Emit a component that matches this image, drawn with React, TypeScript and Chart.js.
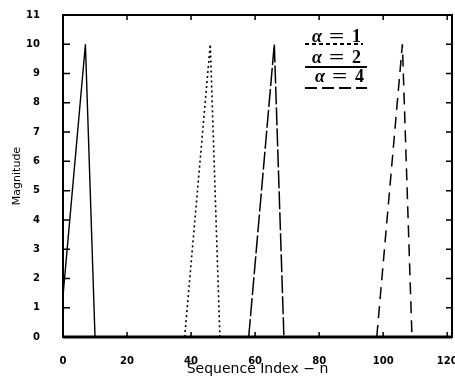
import { useEffect, useRef } from "react";
import { Chart, registerables } from "chart.js";

Chart.register(...registerables);

// Series (vertices of each ramp)
const alpha1N = [38, 46, 49];
const alpha1Mag = [0, 10, 0];
const alpha2N = [0, 7, 10];
const alpha2Mag = [1.4, 10, 0];
const alpha4N = [58, 66, 69];
const alpha4Mag = [0, 10, 0];
const extraN = [98, 106, 109];
const extraMag = [0, 10, 0];

const legendLabels = ["α = 1", "α = 2", "α = 4"];
const xTicks = [0, 20, 40, 60, 80, 100, 120];
const yTicks = [0, 1, 2, 3, 4, 5, 6, 7, 8, 9, 10, 11];
const xTitle = "Sequence Index − n";
const yTitle = "Magnitude";

const toPoints = (xs: number[], ys: number[]) => xs.map((x, i) => ({ x, y: ys[i] }));

const legendDashes: number[][] = [[4, 3], [], [12, 5]];

const framePlugin = {
  id: "frameTicksLegend",
  afterDraw(chart: any) {
    const { ctx, chartArea, scales } = chart;
    const { left, right, top, bottom } = chartArea;
    const x = scales.x;
    const y = scales.y;
    ctx.save();
    ctx.strokeStyle = "#000";
    ctx.lineWidth = 1.5;
    ctx.setLineDash([]);
    ctx.beginPath();
    for (const v of yTicks) {
      if (v === 0 || v === 11) continue;
      const py = y.getPixelForValue(v);
      ctx.moveTo(left, py);
      ctx.lineTo(left + 7, py);
      ctx.moveTo(right, py);
      ctx.lineTo(right - 6, py);
    }
    for (const v of xTicks) {
      if (v === 0) continue;
      const px = x.getPixelForValue(v);
      ctx.moveTo(px, bottom);
      ctx.lineTo(px, bottom - 5);
      ctx.moveTo(px, top);
      ctx.lineTo(px, top + 5);
    }
    ctx.stroke();
    // frame
    ctx.lineWidth = 2;
    ctx.strokeRect(left, top, right - left, bottom - top);
    ctx.lineWidth = 3;
    ctx.beginPath();
    ctx.moveTo(left, bottom);
    ctx.lineTo(right, bottom);
    ctx.stroke();

    // legend (inside plot, top right)
    const x0 = right - 140;
    const baselines = [top + 27, top + 48, top + 67];
    const underlines = [top + 29, top + 52, top + 73];
    ctx.fillStyle = "#000";
    ctx.textBaseline = "alphabetic";
    ctx.textAlign = "left";
    legendLabels.forEach((label, i) => {
      const parts = label.split(" ");
      const bx = x0 + (i === 2 ? 3 : 0);
      ctx.font = "italic bold 18px 'Liberation Serif'";
      ctx.fillText(parts[0], bx, baselines[i]);
      ctx.font = "bold 18px 'Liberation Serif'";
      ctx.save();
      ctx.translate(bx + 17, baselines[i]);
      ctx.scale(1.5, 1);
      ctx.fillText(parts[1], 0, 0);
      ctx.restore();
      ctx.fillText(parts[2], bx + 40, baselines[i]);
      ctx.lineWidth = 2;
      ctx.setLineDash(legendDashes[i]);
      ctx.beginPath();
      ctx.moveTo(x0 - 7, underlines[i]);
      ctx.lineTo(x0 + (i === 0 ? 51 : 55), underlines[i]);
      ctx.stroke();
    });
    ctx.restore();
  },
};

export default function App() {
  const canvasRef = useRef<HTMLCanvasElement | null>(null);

  useEffect(() => {
    const canvas = canvasRef.current;
    if (!canvas) return;
    const tickFont = { family: "'DejaVu Sans'", size: 10, weight: "bold" as const };
    const chart = new Chart(canvas, {
      type: "line",
      data: {
        datasets: [
          {
            label: legendLabels[0],
            data: toPoints(alpha1N, alpha1Mag),
            borderColor: "#000",
            borderWidth: 1.6,
            borderDash: [2, 3],
            pointRadius: 0,
            tension: 0,
            fill: false,
          },
          {
            label: legendLabels[1],
            data: toPoints(alpha2N, alpha2Mag),
            borderColor: "#000",
            borderWidth: 1.4,
            pointRadius: 0,
            tension: 0,
            fill: false,
          },
          {
            label: legendLabels[2],
            data: toPoints(alpha4N, alpha4Mag),
            borderColor: "#000",
            borderWidth: 1.5,
            borderDash: [18, 3],
            pointRadius: 0,
            tension: 0,
            fill: false,
          },
          {
            label: "",
            data: toPoints(extraN, extraMag),
            borderColor: "#000",
            borderWidth: 1.5,
            borderDash: [12, 7],
            pointRadius: 0,
            tension: 0,
            fill: false,
          },
        ],
      },
      options: {
        responsive: false,
        animation: false,
        layout: { padding: { top: 15, right: 3, left: 0, bottom: 0 } },
        plugins: {
          legend: { display: false },
          tooltip: { enabled: false },
        },
        scales: {
          x: {
            type: "linear",
            min: 0,
            max: 121.5,
            afterBuildTicks: (s: any) => {
              s.ticks = xTicks.map((v) => ({ value: v }));
            },
            afterFit: (s: any) => {
              s.height = 42;
              s.paddingLeft = 0;
              s.paddingRight = 0;
            },
            grid: { display: false },
            border: { display: false },
            ticks: {
              font: tickFont,
              color: "#000",
              padding: 10,
              maxRotation: 0,
              autoSkip: false,
            },
            title: {
              display: true,
              text: xTitle,
              color: "#000",
              font: { family: "'DejaVu Sans'", size: 14 },
              padding: { top: 0, bottom: 1 },
            },
          },
          y: {
            type: "linear",
            min: 0,
            max: 11,
            afterBuildTicks: (s: any) => {
              s.ticks = yTicks.map((v) => ({ value: v }));
            },
            afterFit: (s: any) => {
              s.width = 63;
              s.paddingTop = 0;
              s.paddingBottom = 0;
            },
            grid: { display: false },
            border: { display: false },
            ticks: {
              font: tickFont,
              color: "#000",
              padding: 15,
              autoSkip: false,
            },
            title: {
              display: true,
              text: yTitle,
              color: "#000",
              font: { family: "'DejaVu Sans'", size: 11 },
              padding: { top: 11, bottom: 0 },
            },
          },
        },
      },
      plugins: [framePlugin],
    });
    return () => chart.destroy();
  }, []);

  return (
    <div style={{ position: "absolute", left: 0, top: 0, width: 455, height: 379, background: "#fff" }}>
      <canvas ref={canvasRef} width={455} height={379} style={{ display: "block" }} />
    </div>
  );
}
